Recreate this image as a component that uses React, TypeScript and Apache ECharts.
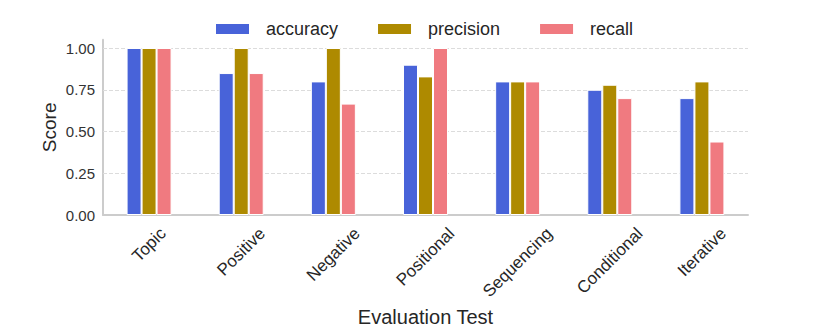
import React, { useEffect, useRef } from "react";
import * as echarts from "echarts";

const categories = ["Topic", "Positive", "Negative", "Positional", "Sequencing", "Conditional", "Iterative"];
const accuracy = [1.0, 0.85, 0.8, 0.9, 0.8, 0.75, 0.7];
const precision = [1.0, 1.0, 1.0, 0.83, 0.8, 0.78, 0.8];
const recall = [1.0, 0.85, 0.667, 1.0, 0.8, 0.7, 0.44];
const yTicks = [0, 0.25, 0.5, 0.75, 1.0];

const FONT = '"Liberation Sans", Arial, Helvetica, sans-serif';
const COLORS = ["#4863D9", "#AE8A00", "#F07A80"];

export default function App() {
  const ref = useRef<HTMLDivElement>(null);
  useEffect(() => {
    if (!ref.current) return;
    const chart = echarts.init(ref.current, null, { renderer: "svg" });
    const mk = (name: string, data: number[], i: number) => ({
      name,
      type: "bar",
      data,
      barWidth: 15,
      barGap: "0%",
      z: 3,
      itemStyle: { color: COLORS[i], borderColor: "#ffffff", borderWidth: 1 },
      ...(i === 0
        ? {
            markLine: {
              silent: true,
              symbol: "none",
              z: 1,
              label: { show: false },
              lineStyle: { type: [4, 2], color: "#dcdcdc", width: 1 },
              data: yTicks.filter((v) => v > 0).map((v) => ({ yAxis: v })),
            },
          }
        : {}),
    });
    chart.setOption({
      animation: false,
      backgroundColor: "#ffffff",
      textStyle: { fontFamily: FONT },
      legend: {
        left: 209,
        top: 15,
        itemWidth: 35,
        itemHeight: 12,
        itemGap: 38,
        icon: "rect",
        textStyle: { fontSize: 18, color: "#262626", fontFamily: FONT, padding: [0, 0, 0, 11] },
        data: ["accuracy", "precision", "recall"],
      },
      grid: { left: 103, right: 82, top: 39.65, bottom: 117, containLabel: false },
      xAxis: {
        type: "category",
        data: categories,
        name: "Evaluation Test",
        nameLocation: "middle",
        nameGap: 92,
        nameMoveOverlap: false,
        nameTextStyle: { fontSize: 20, color: "#262626", fontFamily: FONT },
        axisLine: { lineStyle: { color: "#cccccc", width: 2 } },
        axisTick: { show: false },
        axisLabel: { show: false },
      },
      yAxis: {
        type: "value",
        min: 0,
        max: 1.05,
        interval: 0.25,
        name: "Score",
        nameLocation: "middle",
        nameGap: 44,
        nameMoveOverlap: false,
        nameTextStyle: { fontSize: 19, color: "#262626", fontFamily: FONT },
        axisLine: { show: true, lineStyle: { color: "#cccccc", width: 2 } },
        axisTick: { show: false },
        splitLine: { show: false },
        axisLabel: {
          fontSize: 15,
          color: "#333333",
          margin: 8,
          fontFamily: FONT,
          formatter: (v: number) => (v > 1.001 ? "" : v.toFixed(2)),
        },
      },
      series: [mk("accuracy", accuracy, 0), mk("precision", precision, 1), mk("recall", recall, 2)],
    });

    // rotated tick labels, matplotlib-style (bbox centred under tick)
    const canvas = document.createElement("canvas");
    const ctx = canvas.getContext("2d")!;
    const fs = 17;
    const font = `${fs}px ${FONT}`;
    ctx.font = font;
    const axisY = chart.convertToPixel({ yAxisIndex: 0 }, 0) as number;
    const pad = 10;
    const h = fs * 0.95;
    const s = Math.SQRT1_2;
    const graphics = categories.map((c) => {
      const tx = chart.convertToPixel({ xAxisIndex: 0 }, c) as number;
      const w = ctx.measureText(c).width;
      const half = (s * (w + h)) / 2;
      return {
        type: "text",
        x: tx,
        y: axisY + pad + half,
        rotation: Math.PI / 4,
        silent: true,
        style: {
          text: c,
          font,
          fontSize: fs,
          fontFamily: FONT,
          fill: "#262626",
          align: "center",
          verticalAlign: "middle",
        },
      };
    });
    chart.setOption({ graphic: graphics });
    return () => chart.dispose();
  }, []);
  return (
    <div
      ref={ref}
      style={{ position: "fixed", left: 0, top: 0, width: 830, height: 332, background: "#fff" }}
    />
  );
}
